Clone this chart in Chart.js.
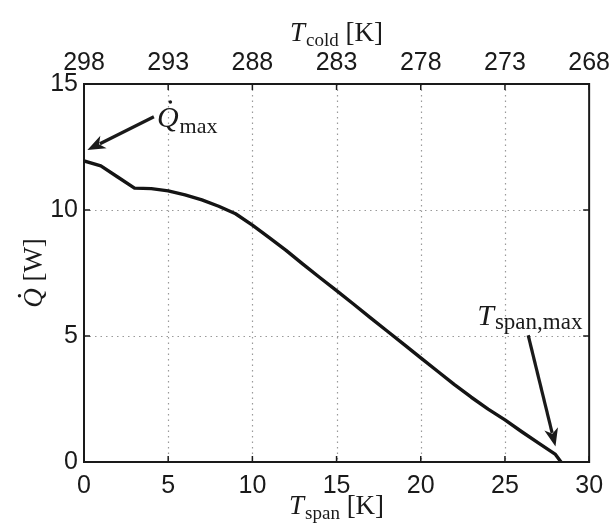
<!DOCTYPE html>
<html><head><meta charset="utf-8">
<script src="https://cdn.jsdelivr.net/npm/chart.js@4/dist/chart.umd.min.js"></script>
<style>html,body{margin:0;padding:0;background:#fff;overflow:hidden}canvas{display:block}</style>
</head><body>
<canvas id="c" width="616" height="523" style="width:616px;height:523px"></canvas>
<script>
// ---- data ----
const tSpan = [0,1,2,3,4,5,6,7,8,9,10,11,12,13,14,15,16,17,18,19,20,21,22,23,24,25,26,27,28,28.33];
const qDot  = [11.95,11.75,11.31,10.87,10.85,10.76,10.6,10.4,10.15,9.85,9.4,8.9,8.4,7.85,7.32,6.8,6.27,5.73,5.2,4.67,4.13,3.6,3.07,2.57,2.1,1.67,1.2,0.75,0.3,0];
const spanTicks = [0,5,10,15,20,25,30];
const coldTicks = [298,293,288,283,278,273,268];
const qTicks = [0,5,10,15];

const SANS = '"Liberation Sans", Arial, sans-serif';
const SERIF = '"Liberation Serif", "DejaVu Serif", serif';
const INK = '#1a1a1a';

// annotation anchors in data units
const annQmax = {text:[4.33,13.3], tail:[4.15,13.7], tip:[0.2,12.38]};
const annTmax = {text:[29.6,5.43], tail:[26.38,5.03], tip:[28.0,0.62]};

function arrow(ctx, x1,y1,x2,y2){
  const a = Math.atan2(y2-y1,x2-x1), L=18, W=7;
  const bx = x2 - L*Math.cos(a), by = y2 - L*Math.sin(a);
  ctx.save();
  ctx.strokeStyle=INK; ctx.fillStyle=INK; ctx.lineWidth=3.2;
  ctx.beginPath(); ctx.moveTo(x1,y1); ctx.lineTo(bx+4*Math.cos(a),by+4*Math.sin(a)); ctx.stroke();
  ctx.beginPath(); ctx.moveTo(x2,y2);
  ctx.lineTo(bx - W*Math.sin(a), by + W*Math.cos(a));
  ctx.lineTo(bx + 5*Math.cos(a), by + 5*Math.sin(a));
  ctx.lineTo(bx + W*Math.sin(a), by - W*Math.cos(a));
  ctx.closePath(); ctx.fill();
  ctx.restore();
}

// italic main letter + roman subscript + roman rest
function mathText(ctx, x, y, main, sub, rest, size, align, dot, subScale, subShift){
  subScale = subScale || 0.72; subShift = subShift===undefined ? 0.22 : subShift;
  const fMain = 'italic ' + size + 'px ' + SERIF;
  const fSub = Math.round(size*subScale) + 'px ' + SERIF;
  const fRest = size + 'px ' + SERIF;
  ctx.font=fMain; const w1 = ctx.measureText(main).width;
  ctx.font=fSub; const w2 = ctx.measureText(sub).width;
  ctx.font=fRest; const w3 = rest ? ctx.measureText(rest).width : 0;
  const tot = w1 + 1 + w2 + w3;
  let x0 = align==='center' ? x - tot/2 : align==='right' ? x - tot : x;
  ctx.save(); ctx.fillStyle=INK; ctx.textBaseline='alphabetic'; ctx.textAlign='left';
  ctx.font=fMain; ctx.fillText(main, x0, y);
  if(dot){ ctx.beginPath(); ctx.arc(x0 + w1*0.62, y - size*0.83, size*0.06, 0, Math.PI*2); ctx.fill(); }
  ctx.font=fSub; ctx.fillText(sub, x0 + w1 + 1, y + size*subShift);
  if(rest){ ctx.font=fRest; ctx.fillText(rest, x0 + w1 + 1 + w2, y); }
  ctx.restore();
  return tot;
}

const framePlugin = {
  id:'frame',
  beforeDatasetsDraw(chart){
    const {ctx, chartArea:a, scales} = chart;
    ctx.save();
    ctx.strokeStyle='#9a9a9a'; ctx.lineWidth=1.2; ctx.setLineDash([1.5,4]);
    spanTicks.forEach(v=>{ if(v<=0||v>=30) return; const px=Math.round(scales.x.getPixelForValue(v))+0.5;
      ctx.beginPath(); ctx.moveTo(px,a.top); ctx.lineTo(px,a.bottom); ctx.stroke(); });
    qTicks.forEach(v=>{ if(v<=0||v>=15) return; const py=Math.round(scales.y.getPixelForValue(v))+0.5;
      ctx.beginPath(); ctx.moveTo(a.left,py); ctx.lineTo(a.right,py); ctx.stroke(); });
    ctx.restore();
  },
  afterDraw(chart){
    const {ctx, chartArea:a, scales} = chart;
    ctx.save();
    ctx.strokeStyle=INK; ctx.lineWidth=2; ctx.setLineDash([]);
    ctx.strokeRect(a.left, a.top, a.right-a.left, a.bottom-a.top);
    ctx.lineWidth=1.5;
    const tl=6;
    spanTicks.forEach(v=>{ const px=scales.x.getPixelForValue(v);
      ctx.beginPath(); ctx.moveTo(px,a.bottom); ctx.lineTo(px,a.bottom-tl); ctx.moveTo(px,a.top); ctx.lineTo(px,a.top+tl); ctx.stroke(); });
    qTicks.forEach(v=>{ const py=scales.y.getPixelForValue(v);
      ctx.beginPath(); ctx.moveTo(a.left,py); ctx.lineTo(a.left+tl,py); ctx.moveTo(a.right,py); ctx.lineTo(a.right-tl,py); ctx.stroke(); });
    ctx.restore();

    const X = v=>scales.x.getPixelForValue(v), Y = v=>scales.y.getPixelForValue(v);
    // annotations
    arrow(ctx, X(annQmax.tail[0]), Y(annQmax.tail[1]), X(annQmax.tip[0]), Y(annQmax.tip[1]));
    mathText(ctx, X(annQmax.text[0]), Y(annQmax.text[1]), 'Q', 'max', '', 30, 'left', true, 0.74, 0.2);
    arrow(ctx, X(annTmax.tail[0]), Y(annTmax.tail[1]), X(annTmax.tip[0]), Y(annTmax.tip[1]));
    mathText(ctx, X(annTmax.text[0]), Y(annTmax.text[1]), 'T', 'span,max', '', 30, 'right', false, 0.76, 0.12);

    // axis titles
    const cx = (a.left+a.right)/2;
    mathText(ctx, cx, 41, 'T', 'cold', ' [K]', 27, 'center', false, 0.72, 0.18);
    mathText(ctx, cx, 514, 'T', 'span', ' [K]', 27, 'center', false, 0.72, 0.18);
    ctx.save();
    ctx.translate(42, (a.top+a.bottom)/2);
    ctx.rotate(-Math.PI/2);
    ctx.fillStyle=INK; ctx.textBaseline='alphabetic';
    ctx.font='italic 27px '+SERIF; const wq = ctx.measureText('Q').width;
    ctx.font='27px '+SERIF; const wr = ctx.measureText(' [W]').width;
    const x0 = -(wq+wr)/2;
    ctx.font='italic 27px '+SERIF; ctx.fillText('Q', x0, 0);
    ctx.beginPath(); ctx.arc(x0+wq*0.62, -22.5, 1.7, 0, Math.PI*2); ctx.fill();
    ctx.font='27px '+SERIF; ctx.fillText(' [W]', x0+wq, 0);
    ctx.restore();
  }
};

const tickFont = {family:SANS, size:25};
new Chart(document.getElementById('c').getContext('2d'), {
  type:'line',
  data:{datasets:[{
    data: tSpan.map((x,i)=>({x, y:qDot[i]})),
    borderColor:'#141414', borderWidth:3.4, pointRadius:0, tension:0, fill:false,
    xAxisID:'x', yAxisID:'y', borderJoinStyle:'round', borderCapStyle:'round'
  }]},
  options:{
    responsive:false, animation:false, devicePixelRatio:1,
    layout:{padding:{left:0,right:21,top:0,bottom:0}},
    plugins:{legend:{display:false}, tooltip:{enabled:false}},
    scales:{
      x:{type:'linear', position:'bottom', min:0, max:30,
        afterBuildTicks:s=>{s.ticks=spanTicks.map(v=>({value:v}));},
        ticks:{font:tickFont, color:INK, padding:9, maxRotation:0, autoSkip:false},
        grid:{display:false, drawTicks:false}, border:{display:false},
        afterFit:s=>{s.height=61;}},
      x2:{type:'linear', position:'top', min:0, max:30,
        afterBuildTicks:s=>{s.ticks=spanTicks.map(v=>({value:v}));},
        ticks:{font:tickFont, color:INK, padding:6, maxRotation:0, autoSkip:false,
          callback:(v)=>String(coldTicks[spanTicks.indexOf(v)])},
        grid:{display:false, drawTicks:false}, border:{display:false},
        afterFit:s=>{s.height=84;}},
      y:{type:'linear', position:'left', min:0, max:15,
        afterBuildTicks:s=>{s.ticks=qTicks.map(v=>({value:v}));},
        ticks:{font:tickFont, color:INK, padding:6},
        grid:{display:false, drawTicks:false}, border:{display:false},
        afterFit:s=>{s.width=84;}}
    }
  },
  plugins:[framePlugin]
});
</script>
</body></html>
